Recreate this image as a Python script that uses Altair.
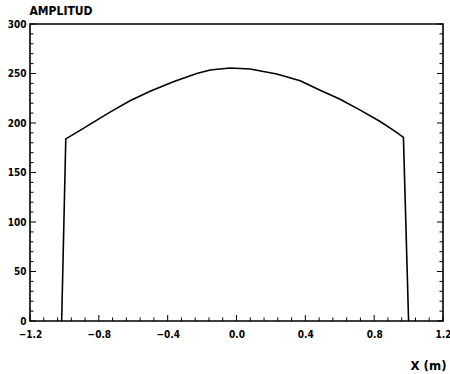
import altair as alt
import pandas as pd

# Curve
x_pos = [-1.016, -0.992, -0.89, -0.735, -0.619, -0.502, -0.367, -0.231, -0.153,
         -0.037, 0.079, 0.234, 0.370, 0.486, 0.602, 0.719, 0.835, 0.922, 0.970, 1.0]
amplitude = [0, 184, 194.6, 211, 222.5, 232, 241.7, 250, 253.5,
             255.5, 254.5, 249.5, 242.7, 233, 224, 213, 201.5, 191.5, 185.5, 0]

# Axis labels / ticks
x_labels = [-1.2, -0.8, -0.4, 0.0, 0.4, 0.8, 1.2]
y_labels = [0, 50, 100, 150, 200, 250, 300]
x_ticks = [round(-1.2 + 0.08 * k, 2) for k in range(31)]
y_ticks = list(range(0, 301, 10))

W, H = 413, 297
FONT = "Liberation Sans Narrow, DejaVu Sans Condensed, sans-serif"

curve = pd.DataFrame({"x": x_pos, "amp": amplitude, "i": range(len(x_pos))})
xt = pd.DataFrame({"x": x_ticks, "major": [abs(round(v / 0.4) * 0.4 - v) < 1e-6 for v in x_ticks]})
yt = pd.DataFrame({"amp": y_ticks, "major": [v % 50 == 0 for v in y_ticks]})

xs = alt.Scale(domain=[-1.2, 1.2], nice=False, zero=False)
ys = alt.Scale(domain=[0, 300], nice=False, zero=False)

x_axis = alt.Axis(
    values=x_labels, format=".1f", ticks=False, domain=False, grid=False,
    labelPadding=8, labelFont=FONT, labelFontSize=10, labelFontWeight="bold",
    labelColor="black", labelFlush=False,
    title="X (m)", titleFont=FONT, titleFontSize=13, titleFontWeight="bold",
    titleColor="black", titleAlign="right", titleBaseline="alphabetic",
    titleAnchor="end", titleX=416, titleY=48)
y_axis = alt.Axis(
    values=y_labels, format="d", ticks=False, domain=False, grid=False,
    labelPadding=4, labelFont=FONT, labelFontSize=10, labelFontWeight="bold",
    labelColor="black", labelFlush=False,
    title="AMPLITUD", titleFont=FONT, titleFontSize=12, titleFontWeight="bold",
    titleColor="black", titleAngle=0, titleAlign="left", titleBaseline="alphabetic",
    titleX=-1, titleY=-10)

line = alt.Chart(curve).mark_line(color="black", strokeWidth=1.6).encode(
    x=alt.X("x:Q", scale=xs, axis=x_axis),
    y=alt.Y("amp:Q", scale=ys, axis=y_axis),
    order="i:Q",
)

def yrule(major, x0, x1):
    return alt.Chart(yt).transform_filter(
        alt.datum.major if major else ~alt.datum.major
    ).mark_rule(color="black", strokeWidth=1).encode(
        y=alt.Y("amp:Q", scale=ys, axis=y_axis), x=alt.value(x0), x2=alt.value(x1))

def xrule(major, y0, y1):
    return alt.Chart(xt).transform_filter(
        alt.datum.major if major else ~alt.datum.major
    ).mark_rule(color="black", strokeWidth=1).encode(
        x=alt.X("x:Q", scale=xs, axis=x_axis), y=alt.value(y0), y2=alt.value(y1))

layers = [
    line,
    yrule(True, 0, 6), yrule(False, 0, 3.5),
    yrule(True, W, W - 6), yrule(False, W, W - 3.5),
    xrule(True, H, H - 6), xrule(False, H, H - 3.5),
]

chart = alt.layer(*layers).properties(
    width=W, height=H,
    autosize=alt.AutoSizeParams(type="none"),
    padding={"left": 30, "top": 24, "right": 7, "bottom": 53},
    background="white",
).configure_view(stroke="black", strokeWidth=1.6)

chart.save("out.html", embed_options={"renderer": "svg", "actions": False})
